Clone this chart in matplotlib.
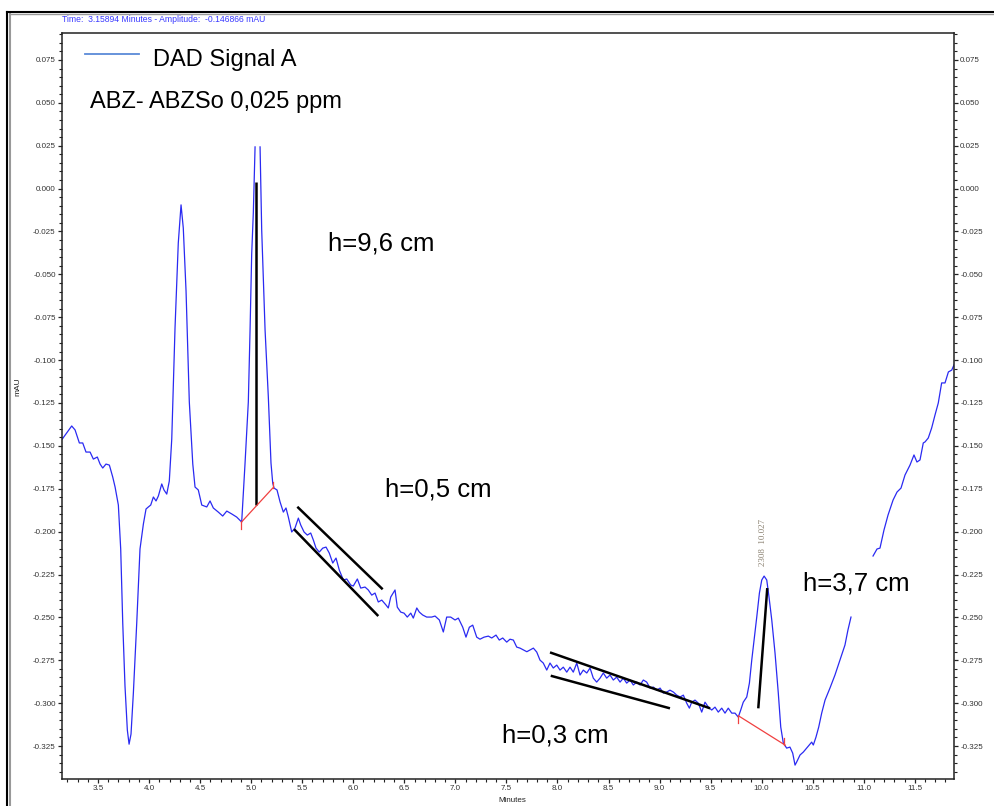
import numpy as np
import matplotlib
matplotlib.use("Agg")
import matplotlib.pyplot as plt
from matplotlib.lines import Line2D
from matplotlib.ticker import MultipleLocator, FormatStrFormatter

plt.rcParams['font.family'] = ['Liberation Sans', 'DejaVu Sans']

# ---- data (minutes, mAU) ----
time_min = [
    3.150, 3.242, 3.275, 3.317, 3.350, 3.382, 3.422, 3.454, 3.493, 3.520, 3.546, 3.578, 3.611,
    3.644, 3.667, 3.699, 3.722, 3.742, 3.764, 3.787, 3.804, 3.823, 3.846, 3.879, 3.911, 3.944,
    3.970, 3.993, 4.016, 4.042, 4.068, 4.091, 4.124, 4.146, 4.173, 4.198, 4.222, 4.254, 4.286,
    4.313, 4.335, 4.362, 4.394, 4.428, 4.450, 4.482, 4.516, 4.565, 4.597, 4.629, 4.678, 4.721,
    4.761, 4.810, 4.858, 4.907, 4.940, 4.972, 4.989, 5.005, 5.021, 5.038, 5.062, 5.087, 5.103,
    5.136, 5.168, 5.194, 5.211, 5.224, 5.253, 5.283, 5.315, 5.341, 5.364, 5.397, 5.429, 5.462,
    5.485, 5.518, 5.550, 5.583, 5.609, 5.635, 5.667, 5.701, 5.733, 5.765, 5.799, 5.831, 5.863,
    5.903, 5.936, 5.975, 6.000, 6.040, 6.073, 6.115, 6.147, 6.181, 6.213, 6.245, 6.279, 6.321,
    6.343, 6.367, 6.409, 6.431, 6.465, 6.497, 6.529, 6.563, 6.588, 6.622, 6.647, 6.680, 6.719,
    6.768, 6.801, 6.843, 6.882, 6.915, 6.954, 6.997, 7.029, 7.072, 7.104, 7.137, 7.170, 7.209,
    7.241, 7.281, 7.323, 7.356, 7.398, 7.430, 7.464, 7.503, 7.535, 7.568, 7.601, 7.633, 7.700,
    7.764, 7.797, 7.829, 7.861, 7.895, 7.927, 7.959, 7.993, 8.025, 8.057, 8.091, 8.123, 8.155,
    8.189, 8.221, 8.253, 8.287, 8.319, 8.351, 8.384, 8.417, 8.449, 8.482, 8.515, 8.547, 8.580,
    8.613, 8.645, 8.678, 8.711, 8.743, 8.776, 8.809, 8.841, 8.874, 8.907, 8.939, 8.972, 9.005,
    9.037, 9.070, 9.102, 9.135, 9.168, 9.201, 9.233, 9.266, 9.292, 9.315, 9.347, 9.380, 9.413,
    9.445, 9.478, 9.511, 9.543, 9.575, 9.609, 9.641, 9.673, 9.707, 9.739, 9.771, 9.795, 9.820,
    9.854, 9.880, 9.903, 9.926, 9.952, 9.978, 10.001, 10.024, 10.050, 10.072, 10.099, 10.131,
    10.163, 10.187, 10.212, 10.245, 10.277, 10.304, 10.327, 10.343, 10.376, 10.408, 10.441,
    10.467, 10.490, 10.506, 10.532, 10.559, 10.588, 10.621, 10.653, 10.669, 10.718, 10.767,
    10.816, 10.845, 10.875, 10.980, 11.091, 11.130, 11.159, 11.198, 11.238, 11.287, 11.326,
    11.365, 11.404, 11.453, 11.492, 11.521, 11.551, 11.583, 11.600, 11.632, 11.665, 11.698,
    11.730, 11.763, 11.796, 11.829, 11.862, 11.884,
]
signal_mau = [
    -0.1460, -0.1384, -0.1407, -0.1483, -0.1483, -0.1536, -0.1536, -0.1577, -0.1565, -0.1606,
    -0.1629, -0.1606, -0.1612, -0.1682, -0.1740, -0.1845, -0.2101, -0.2533, -0.2900, -0.3157,
    -0.3239, -0.3180, -0.2941, -0.2533, -0.2101, -0.1956, -0.1868, -0.1856, -0.1845, -0.1798,
    -0.1821, -0.1792, -0.1722, -0.1757, -0.1781, -0.1705, -0.1460, -0.0813, -0.0317, -0.0095,
    -0.0230, -0.0597, -0.1244, -0.1606, -0.1740, -0.1757, -0.1845, -0.1856, -0.1821, -0.1862,
    -0.1886, -0.1909, -0.1880, -0.1897, -0.1915, -0.1944, -0.1600, -0.1244, -0.0824, -0.0381,
    -0.0142, 0.0243, np.nan, 0.0243, -0.0241, -0.0824, -0.1215, -0.1600, -0.1717, -0.1746,
    -0.1757, -0.1827, -0.1886, -0.1862, -0.1915, -0.2002, -0.1979, -0.1921, -0.1961, -0.2002,
    -0.2020, -0.2008, -0.2049, -0.2096, -0.2119, -0.2096, -0.2090, -0.2125, -0.2183, -0.2154,
    -0.2224, -0.2282, -0.2276, -0.2311, -0.2317, -0.2276, -0.2329, -0.2323, -0.2340, -0.2370,
    -0.2358, -0.2410, -0.2399, -0.2428, -0.2445, -0.2381, -0.2340, -0.2440, -0.2469, -0.2475,
    -0.2498, -0.2475, -0.2504, -0.2445, -0.2469, -0.2486, -0.2498, -0.2498, -0.2492, -0.2515,
    -0.2585, -0.2498, -0.2498, -0.2515, -0.2504, -0.2557, -0.2615, -0.2557, -0.2545, -0.2615,
    -0.2627, -0.2615, -0.2609, -0.2620, -0.2603, -0.2632, -0.2620, -0.2644, -0.2627, -0.2632,
    -0.2673, -0.2679, -0.2700, -0.2679, -0.2702, -0.2749, -0.2766, -0.2807, -0.2766, -0.2795,
    -0.2778, -0.2807, -0.2790, -0.2819, -0.2790, -0.2819, -0.2766, -0.2836, -0.2807, -0.2824,
    -0.2795, -0.2854, -0.2877, -0.2854, -0.2824, -0.2854, -0.2836, -0.2865, -0.2848, -0.2877,
    -0.2854, -0.2883, -0.2865, -0.2894, -0.2877, -0.2894, -0.2865, -0.2877, -0.2912, -0.2906,
    -0.2924, -0.2912, -0.2941, -0.2935, -0.2924, -0.2935, -0.2953, -0.2964, -0.2953, -0.3000,
    -0.3029, -0.2994, -0.2982, -0.3000, -0.3052, -0.2994, -0.3023, -0.3040, -0.3023, -0.3052,
    -0.3029, -0.3058, -0.3029, -0.3058, -0.3058, -0.3081, -0.3040, -0.2994, -0.2964, -0.2883,
    -0.2749, -0.2632, -0.2498, -0.2358, -0.2282, -0.2259, -0.2282, -0.2381, -0.2515, -0.2708,
    -0.2941, -0.3139, -0.3232, -0.3262, -0.3256, -0.3291, -0.3361, -0.3343, -0.3302, -0.3285,
    -0.3262, -0.3244, -0.3227, -0.3244, -0.3198, -0.3139, -0.3058, -0.2982, -0.2935, -0.2912,
    -0.2836, -0.2749, -0.2661, -0.2574, -0.2498, np.nan, -0.2142, -0.2101, -0.2096, -0.1991,
    -0.1903, -0.1816, -0.1769, -0.1746, -0.1670, -0.1612, -0.1553, -0.1594, -0.1582, -0.1483,
    -0.1477, -0.1454, -0.1396, -0.1320, -0.1250, -0.1133, -0.1133, -0.1069, -0.1058, -0.1028,
]

# hand-drawn height construction lines (minutes, mAU)
black_lines = [
    ([5.045, 5.045], [0.0040, -0.1845]),
    ([5.452, 6.288], [-0.1855, -0.2336]),
    ([5.420, 6.245], [-0.1986, -0.2492]),
    ([7.927, 9.495], [-0.2704, -0.3030]),
    ([7.934, 9.102], [-0.2840, -0.3030]),
    ([10.055, 9.967], [-0.2329, -0.3030]),
]
red_lines = [
    ([4.905, 5.211], [-0.1944, -0.1746]),
    ([4.905, 4.905], [-0.1944, -0.1985]),
    ([5.211, 5.211], [-0.1746, -0.1711]),
    ([9.771, 10.229], [-0.3073, -0.3244]),
    ([9.771, 9.771], [-0.3073, -0.3117]),
    ([10.221, 10.221], [-0.3203, -0.3244]),
]

x_limits = (3.147, 11.884)
y_limits = (-0.3442, 0.0907)

W, H = 995, 806
fig = plt.figure(figsize=(W / 100, H / 100), dpi=100)
ax = fig.add_axes([62 / W, 1 - 779 / H, (954 - 62) / W, (779 - 33) / H])

ax.plot(time_min, signal_mau, color='#2a2af2', lw=0.9)
for xs, ys in black_lines:
    ax.plot(xs, ys, color='black', lw=1.8, solid_capstyle='butt')
for xs, ys in red_lines:
    ax.plot(xs, ys, color='#f04040', lw=0.9)

ax.set_xlim(*x_limits)
ax.set_ylim(*y_limits)
ax.xaxis.set_major_locator(MultipleLocator(0.5))
ax.xaxis.set_minor_locator(MultipleLocator(0.1))
ax.yaxis.set_major_locator(MultipleLocator(0.025))
ax.yaxis.set_minor_locator(MultipleLocator(0.005))
ax.xaxis.set_major_formatter(FormatStrFormatter('%.1f'))
ax.yaxis.set_major_formatter(FormatStrFormatter('%.3f'))
ax.tick_params(axis='both', which='major', labelsize=5.8, length=3, width=0.9,
               colors='#222222', pad=1.5)
ax.tick_params(axis='both', which='minor', length=2, width=0.8, colors='#222222')
ax.tick_params(axis='y', which='both', left=True, right=True, labelleft=True, labelright=True)
for lab in ax.get_xticklabels() + ax.get_yticklabels():
    lab.set_color('#333333')
for s in ax.spines.values():
    s.set_linewidth(1.1)
    s.set_color('#222222')

def ft(px, py, s, **kw):
    fig.text(px / W, 1 - py / H, s, **kw)

# legend line + texts
fig.add_artist(Line2D([85 / W, 139 / W], [1 - 54 / H, 1 - 54 / H], color='#5a8ad8', lw=1.3))
ft(153, 60, 'DAD Signal A', fontsize=17, va='center', ha='left')
ft(90, 102, 'ABZ- ABZSo 0,025 ppm', fontsize=17, va='center', ha='left')
ft(328, 243, 'h=9,6 cm', fontsize=18.5, va='center', ha='left')
ft(385, 490, 'h=0,5 cm', fontsize=18.5, va='center', ha='left')
ft(803, 583, 'h=3,7 cm', fontsize=18.5, va='center', ha='left')
ft(502, 735, 'h=0,3 cm', fontsize=18.5, va='center', ha='left')

ft(62, 19, 'Time:  3.15894 Minutes - Amplitude:  -0.146866 mAU', fontsize=6.2,
   color='#3a3aff', va='center', ha='left')
ft(18, 387, 'mAU', fontsize=6, rotation=90, va='center', ha='center', color='#222222')
ft(512, 801, 'Minutes', fontsize=5.8, va='center', ha='center', color='#222222')
ft(763, 542, '2308  10.027', fontsize=6.5, rotation=90, va='center', ha='center',
   color='#8a8070', family=['Liberation Serif', 'DejaVu Serif'])

# outer window frame
fig.add_artist(Line2D([7 / W, 7 / W], [0, 1 - 12 / H], color='black', lw=1.5))
fig.add_artist(Line2D([10 / W, 10 / W], [0, 1 - 14 / H], color='#999999', lw=1.5))
fig.add_artist(Line2D([7 / W, 1], [1 - 12 / H, 1 - 12 / H], color='black', lw=1.5))
fig.add_artist(Line2D([10 / W, 1], [1 - 14 / H, 1 - 14 / H], color='#999999', lw=1.0))

fig.savefig('out.png', dpi=100)
